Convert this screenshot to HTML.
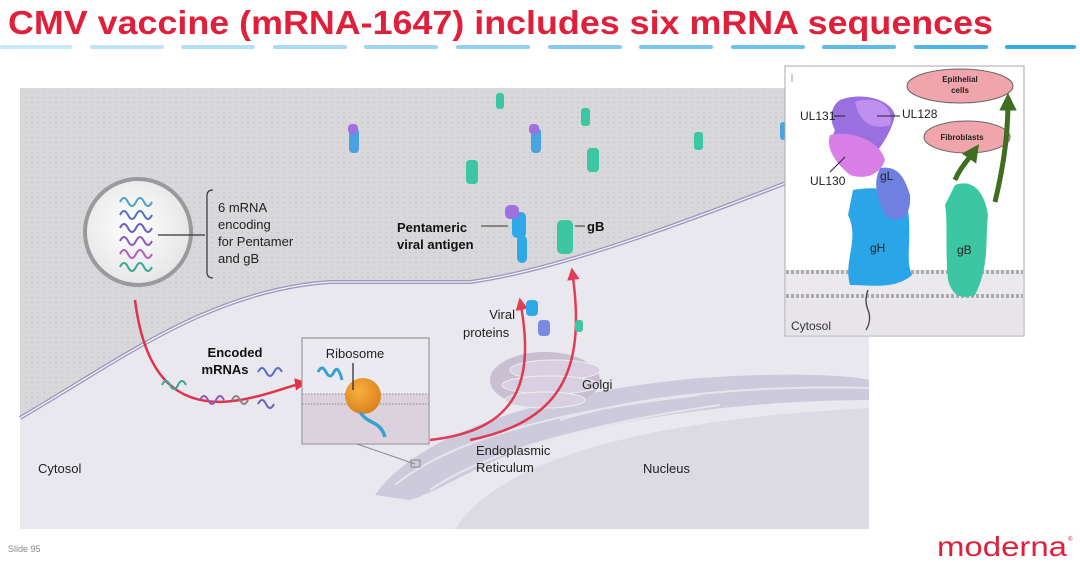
<!DOCTYPE html>
<html><head><meta charset="utf-8"><style>
html,body{margin:0;padding:0;background:#fff;}
body{width:1080px;height:563px;overflow:hidden;position:relative;font-family:"Liberation Sans",sans-serif;}
svg{position:absolute;left:0;top:0;}
</style></head><body>
<svg width="1080" height="563" viewBox="0 0 1080 563" xmlns="http://www.w3.org/2000/svg" font-family="Liberation Sans, sans-serif">
<defs>
<pattern id="dots" width="6" height="5" patternUnits="userSpaceOnUse"><rect width="6" height="5" fill="#d8d8db"/><rect x="1" y="2" width="2" height="1" fill="#c9c9cd"/></pattern>
<radialGradient id="ves" cx="0.45" cy="0.45" r="0.6"><stop offset="0" stop-color="#ffffff"/><stop offset="1" stop-color="#e4e4e6"/></radialGradient>
<radialGradient id="ribo" cx="0.4" cy="0.35" r="0.7"><stop offset="0" stop-color="#f8b040"/><stop offset="1" stop-color="#d9801a"/></radialGradient>
<marker id="ar" viewBox="0 0 10 10" refX="8" refY="5" markerWidth="5" markerHeight="5" orient="auto"><path d="M0,0 L10,5 L0,10 z" fill="#e0203a"/></marker>
<marker id="ag" viewBox="0 0 10 10" refX="6" refY="5" markerWidth="3.5" markerHeight="3.5" orient="auto"><path d="M0,0 L10,5 L0,10 z" fill="#3f6e20"/></marker>
</defs>

<!-- title -->
<text x="8" y="34" font-size="33" font-weight="bold" fill="#e0203a" textLength="985" lengthAdjust="spacingAndGlyphs" style="font-weight:600">CMV vaccine (mRNA-1647) includes six mRNA sequences</text>
<g stroke-width="4" stroke-linecap="round">
<line x1="2" y1="47" x2="70" y2="47" stroke="#c9e8f6"/>
<line x1="92" y1="47" x2="162" y2="47" stroke="#c0e4f5"/>
<line x1="183" y1="47" x2="253" y2="47" stroke="#b5dff4"/>
<line x1="275" y1="47" x2="345" y2="47" stroke="#aadaf3"/>
<line x1="366" y1="47" x2="436" y2="47" stroke="#9ed5f1"/>
<line x1="458" y1="47" x2="528" y2="47" stroke="#92d0ef"/>
<line x1="550" y1="47" x2="620" y2="47" stroke="#86cbee"/>
<line x1="641" y1="47" x2="711" y2="47" stroke="#7ac6ec"/>
<line x1="733" y1="47" x2="803" y2="47" stroke="#6ec1ea"/>
<line x1="824" y1="47" x2="894" y2="47" stroke="#60bbe8"/>
<line x1="916" y1="47" x2="986" y2="47" stroke="#50b4e6"/>
<line x1="1007" y1="47" x2="1074" y2="47" stroke="#3aaae2"/>
</g>

<!-- main panel -->
<rect x="20" y="88" width="849" height="441" fill="#e9e8ef"/>
<path d="M20,88 H869 V150 C700,218 560,270 470,282 L330,282 C210,290 120,360 20,418 Z" fill="url(#dots)"/>
<path d="M20,418 C120,360 210,290 330,282 L470,282 C560,270 700,218 869,150" fill="none" stroke="#9a98c0" stroke-width="4"/>
<path d="M20,418 C120,360 210,290 330,282 L470,282 C560,270 700,218 869,150" fill="none" stroke="#f4f4f8" stroke-width="1.3"/>

<!-- nucleus -->
<path d="M455,529 C500,460 640,420 869,408 V529 Z" fill="#dcdbe4"/>
<!-- ER -->
<path d="M375,495 C420,430 560,390 700,378 C780,372 850,375 869,380 V400 C760,400 620,415 520,450 C470,470 430,495 410,500 Z" fill="#c9c7d8" opacity="0.9"/>
<path d="M395,485 C450,440 560,410 700,395" stroke="#e8e4ee" stroke-width="2" fill="none"/>
<path d="M430,490 C480,455 580,425 720,405" stroke="#e8e4ee" stroke-width="2" fill="none"/>
<path d="M560,420 C640,395 760,385 869,388" stroke="#e8e4ee" stroke-width="2" fill="none"/>
<!-- golgi -->
<ellipse cx="545" cy="380" rx="55" ry="28" fill="#c8bfd0"/>
<ellipse cx="555" cy="370" rx="45" ry="10" fill="#d8cfe0" stroke="#eee" />
<ellipse cx="550" cy="385" rx="48" ry="9" fill="#d8cfe0" stroke="#eee"/>
<ellipse cx="545" cy="400" rx="40" ry="8" fill="#d8cfe0" stroke="#eee"/>

<!-- labels main -->
<text x="38" y="473" font-size="13" fill="#222">Cytosol</text>
<text x="476" y="455" font-size="13" fill="#222">Endoplasmic</text>
<text x="476" y="472" font-size="13" fill="#222">Reticulum</text>
<text x="643" y="473" font-size="13" fill="#222">Nucleus</text>
<text x="582" y="389" font-size="13" fill="#222">Golgi</text>
<text x="495" y="319" font-size="13" fill="#222" text-anchor="end" dx="20">Viral</text>
<text x="463" y="337" font-size="13" fill="#222">proteins</text>

<!-- vaccine particle -->
<circle cx="138" cy="232" r="53" fill="url(#ves)" stroke="#9a9a9c" stroke-width="4"/>
<g fill="none" stroke-width="2">
<path d="M120,202 q4,-8 8,0 t8,0 t8,0 t8,0" stroke="#4aa3c8"/>
<path d="M120,215 q4,-8 8,0 t8,0 t8,0 t8,0" stroke="#5570c8"/>
<path d="M120,228 q4,-8 8,0 t8,0 t8,0 t8,0" stroke="#6a60c0"/>
<path d="M120,241 q4,-8 8,0 t8,0 t8,0 t8,0" stroke="#8a5cc0"/>
<path d="M120,254 q4,-8 8,0 t8,0 t8,0 t8,0" stroke="#b060c0"/>
<path d="M120,267 q4,-8 8,0 t8,0 t8,0 t8,0" stroke="#3aa890"/>
</g>
<line x1="158" y1="235" x2="205" y2="235" stroke="#333" stroke-width="1.2"/>
<path d="M213,190 q-6,0 -6,6 v76 q0,6 6,6" fill="none" stroke="#333" stroke-width="1.2"/>
<text x="218" y="212" font-size="13" fill="#222">6 mRNA</text>
<text x="218" y="229" font-size="13" fill="#222">encoding</text>
<text x="218" y="246" font-size="13" fill="#222">for Pentamer</text>
<text x="218" y="263" font-size="13" fill="#222">and gB</text>

<!-- red arrows -->
<path d="M135,300 C145,380 180,410 240,400 C270,395 290,385 305,383" fill="none" stroke="#e0203a" stroke-width="2.5" marker-end="url(#ar)" opacity="0.9"/>
<path d="M430,440 C520,430 535,380 520,300" fill="none" stroke="#e0203a" stroke-width="2.5" marker-end="url(#ar)" opacity="0.85"/>
<path d="M470,440 C570,420 585,360 572,270" fill="none" stroke="#e0203a" stroke-width="2.5" marker-end="url(#ar)" opacity="0.85"/>
<!-- mRNA squiggles -->
<g fill="none" stroke-width="2">
<path d="M162,385 q4,-8 8,0 t8,0 t8,0" stroke="#3aa890"/>
<path d="M200,400 q4,-8 8,0 t8,0 t8,0" stroke="#8a5cc0"/>
<path d="M232,400 q4,-8 8,0 t8,0" stroke="#888"/>
<path d="M258,404 q4,-8 8,0 t8,0" stroke="#6a60c0"/>
<path d="M258,372 q4,-8 8,0 t8,0 t8,0" stroke="#5570c8"/>
</g>
<text x="235" y="357" font-size="13" font-weight="bold" fill="#111" text-anchor="middle">Encoded</text>
<text x="225" y="374" font-size="13" font-weight="bold" fill="#111" text-anchor="middle">mRNAs</text>

<!-- ribosome inset -->
<rect x="302" y="338" width="127" height="106" fill="#ebeaf0" stroke="#999" stroke-width="1.2"/>
<rect x="302.6" y="394" width="125.8" height="49.4" fill="#dcd2de"/>
<line x1="302" y1="394" x2="429" y2="394" stroke="#888" stroke-dasharray="1.5 1.5"/>
<line x1="302" y1="404" x2="429" y2="404" stroke="#888" stroke-dasharray="1.5 1.5"/>
<path d="M318,372 q4,-8 8,0 t8,0 t8,8" stroke="#3aa0d0" stroke-width="3" fill="none"/>
<circle cx="363" cy="396" r="18" fill="url(#ribo)"/>
<path d="M360,412 C368,425 380,420 385,437" stroke="#3aa0d0" stroke-width="3.5" fill="none"/>
<line x1="353" y1="363" x2="353" y2="390" stroke="#222" stroke-width="1.2"/>
<text x="355" y="358" font-size="13" fill="#222" text-anchor="middle">Ribosome</text>
<line x1="357" y1="444" x2="415" y2="464" stroke="#888"/>
<rect x="411" y="460" width="9" height="7" fill="none" stroke="#888"/>

<!-- proteins small -->
<g>
<rect x="512" y="212" width="14" height="26" rx="5" fill="#2ea8e6"/><rect x="505" y="205" width="14" height="14" rx="5" fill="#a070e0"/>
<rect x="557" y="220" width="16" height="34" rx="5" fill="#3cc6a2"/>
<rect x="517" y="235" width="10" height="28" rx="5" fill="#2ea8e6"/>
<line x1="481" y1="226" x2="508" y2="226" stroke="#333"/>
<line x1="575" y1="226" x2="585" y2="226" stroke="#333"/>
<rect x="349" y="128" width="10" height="25" rx="4" fill="#4aa3e0"/>
<rect x="348" y="124" width="10" height="10" rx="4" fill="#a070e0"/>
<rect x="531" y="128" width="10" height="25" rx="4" fill="#4aa3e0"/>
<rect x="529" y="124" width="10" height="10" rx="4" fill="#a070e0"/>
<rect x="466" y="160" width="12" height="24" rx="4" fill="#3cc6a2"/>
<rect x="587" y="148" width="12" height="24" rx="4" fill="#3cc6a2"/>
<rect x="581" y="108" width="9" height="18" rx="3" fill="#3cc6a2"/>
<rect x="496" y="93" width="8" height="16" rx="3" fill="#3cc6a2"/>
<rect x="694" y="132" width="9" height="18" rx="3" fill="#3cc6a2"/>
<rect x="780" y="122" width="6" height="18" rx="3" fill="#4aa3e0"/>
<rect x="526" y="300" width="12" height="16" rx="4" fill="#2ea8e6"/>
<rect x="538" y="320" width="12" height="16" rx="4" fill="#7a8ae0"/>
<rect x="575" y="320" width="8" height="12" rx="3" fill="#3cc6a2"/>
</g>
<text x="397" y="232" font-size="13" font-weight="bold" fill="#111">Pentameric</text>
<text x="397" y="249" font-size="13" font-weight="bold" fill="#111">viral antigen</text>
<text x="587" y="231" font-size="13" font-weight="bold" fill="#111">gB</text>

<!-- right inset -->
<rect x="785" y="66" width="239" height="270" fill="#ffffff" stroke="#aaa"/>
<rect x="786" y="296" width="237" height="39" fill="#e8e5ea"/>
<rect x="786" y="270" width="237" height="30" fill="#ece9ee"/>
<line x1="786" y1="272" x2="1023" y2="272" stroke="#aaa" stroke-width="4" stroke-dasharray="3 2"/>
<line x1="786" y1="296" x2="1023" y2="296" stroke="#aaa" stroke-width="4" stroke-dasharray="3 2"/>
<path d="M868,290 q-4,10 0,20 q4,10 -2,20" stroke="#444" fill="none" stroke-width="1.3"/>
<path d="M853,190 C880,185 900,190 908,210 C912,240 905,260 912,275 C895,290 870,285 850,285 C843,260 860,240 848,215 Z" fill="#2aa6e8"/>
<path d="M880,168 C900,165 905,180 910,195 C912,220 895,225 885,215 C878,200 872,185 880,168 Z" fill="#7080e0"/>
<path d="M840,100 C860,92 890,98 895,115 C890,140 870,160 860,170 C845,165 825,150 835,130 C828,118 832,105 840,100 Z" fill="#9a70e0"/>
<path d="M855,102 C875,95 895,105 890,125 C875,130 860,125 855,102 Z" fill="#c090f0"/>
<path d="M830,135 C850,130 880,140 885,160 C880,175 865,180 850,175 C838,165 825,150 830,135 Z" fill="#d880e8"/>
<path d="M955,185 C975,178 985,195 988,215 C985,240 990,265 975,295 C960,300 952,295 948,280 C945,250 948,220 945,205 Z" fill="#3cc6a2"/>
<text x="800" y="120" font-size="12" fill="#222">UL131</text>
<line x1="834" y1="116" x2="845" y2="116" stroke="#222"/>
<text x="902" y="118" font-size="12" fill="#222">UL128</text>
<line x1="877" y1="116" x2="900" y2="116" stroke="#222"/>
<text x="810" y="185" font-size="12" fill="#222">UL130</text>
<line x1="830" y1="172" x2="845" y2="157" stroke="#222"/>
<text x="880" y="180" font-size="12" fill="#222">gL</text>
<text x="870" y="252" font-size="12" fill="#222">gH</text>
<text x="957" y="254" font-size="12" fill="#222">gB</text>
<text x="791" y="330" font-size="12" fill="#333">Cytosol</text>
<line x1="792" y1="74" x2="792" y2="82" stroke="#999"/>
<ellipse cx="960" cy="86" rx="53" ry="17" fill="#f0a4ab" stroke="#666"/>
<text x="960" y="82" font-size="8" font-weight="bold" fill="#222" text-anchor="middle">Epithelial</text>
<text x="960" y="93" font-size="8" font-weight="bold" fill="#222" text-anchor="middle">cells</text>
<ellipse cx="967" cy="137" rx="43" ry="16" fill="#f0a4ab" stroke="#666"/>
<text x="962" y="140" font-size="8" font-weight="bold" fill="#222" text-anchor="middle">Fibroblasts</text>
<path d="M955,180 C960,168 968,160 975,150" stroke="#3f6e20" stroke-width="5" fill="none" marker-end="url(#ag)"/>
<path d="M995,202 C1005,160 1008,130 1008,100" stroke="#3f6e20" stroke-width="5" fill="none" marker-end="url(#ag)"/>

<!-- footer -->
<text x="8" y="552" font-size="9" fill="#888">Slide 95</text>
<text x="937" y="556" font-size="28" fill="#e0203a" textLength="130" lengthAdjust="spacingAndGlyphs">moderna</text>
<text x="1068" y="541" font-size="6" fill="#e0203a">®</text>
</svg>
</body></html>
